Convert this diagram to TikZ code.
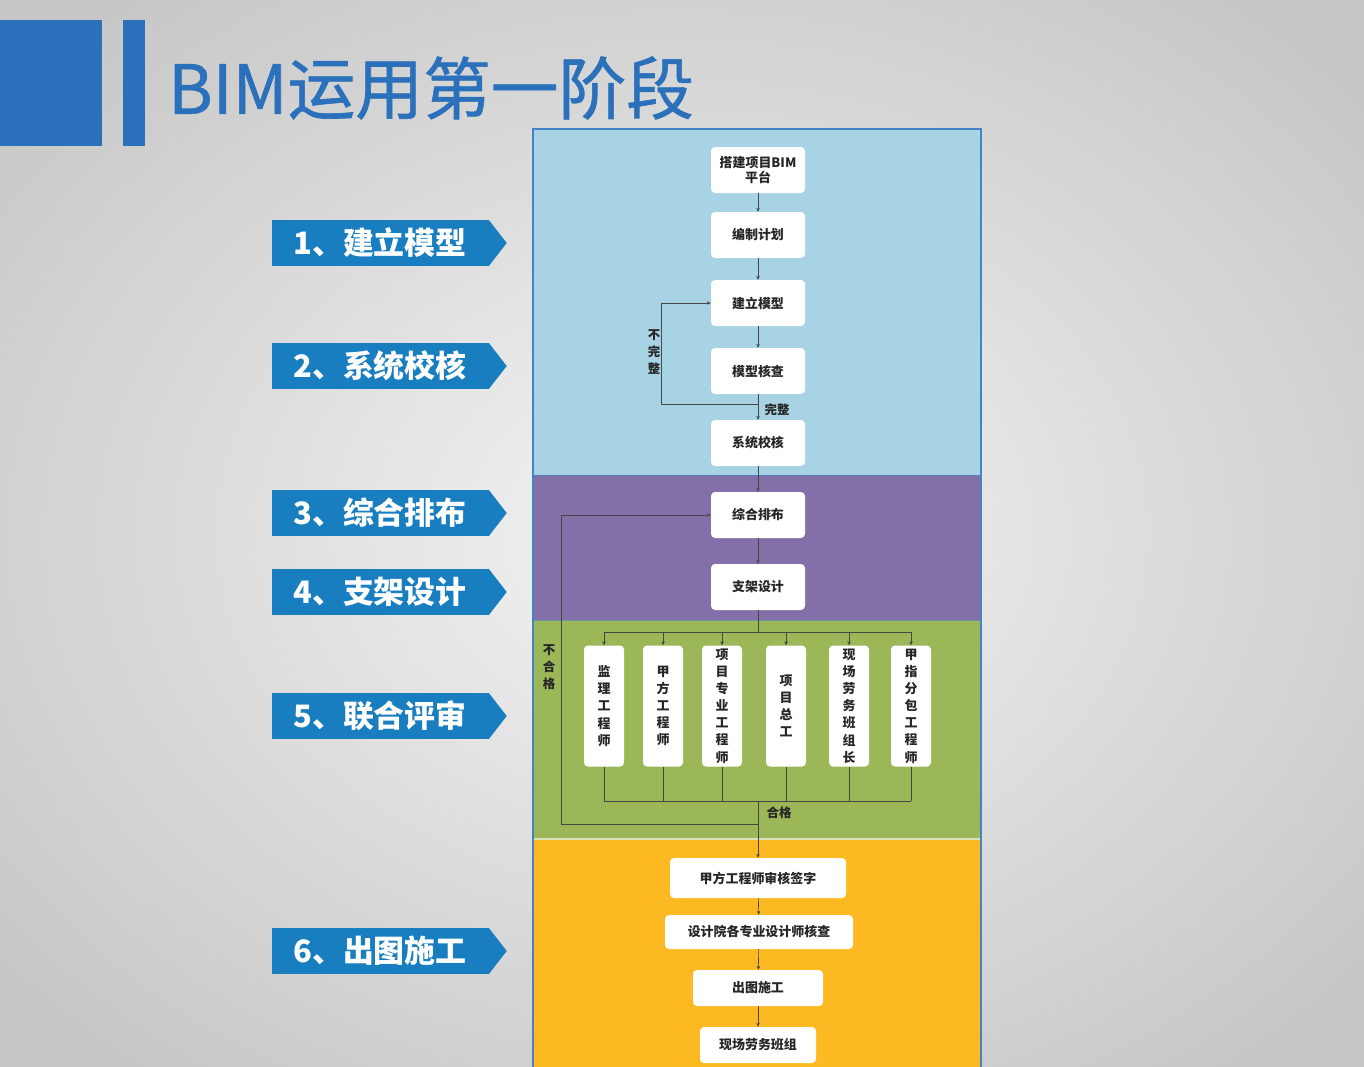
\documentclass[tikz,border=0pt]{standalone}
\usepackage{fontspec}
\newfontfamily\cjk{Noto Sans CJK SC}
\newfontfamily\cjktitle{Noto Sans CJK SC}[FakeBold=0.9]
\usetikzlibrary{arrows.meta,calc}
\definecolor{secblue}{RGB}{167,211,228}
\definecolor{secpurple}{RGB}{132,112,168}
\definecolor{secgreen}{RGB}{155,183,88}
\definecolor{secorange}{RGB}{253,185,34}
\definecolor{frameblue}{RGB}{70,130,200}
\definecolor{titleblue}{RGB}{42,112,186}
\definecolor{lblblue}{RGB}{24,126,192}
\definecolor{linegray}{RGB}{70,70,70}
\tikzset{
  fbox/.style={fill=white, rounded corners=4bp, minimum width=94bp, minimum height=46bp,
    inner sep=1bp, align=center, text=black!85,
    font=\cjk\bfseries\fontsize{13}{15}\selectfont},
  vbox/.style={fill=white, rounded corners=4bp, minimum width=40bp, minimum height=121bp,
    inner sep=1bp, align=center, text=black!85,
    font=\cjk\bfseries\fontsize{13}{17.2}\selectfont},
  conn/.style={draw=linegray, line width=0.6bp},
  arr/.style={conn, -{Stealth[length=4bp,width=3.5bp]}},
  lbl/.style={fill=lblblue, text=white, minimum width=217bp, minimum height=46bp,
    inner sep=0pt, font=\cjk\bfseries\fontsize{31}{31}\selectfont},
  note/.style={inner sep=0pt, text=black!85, align=center,
    font=\cjk\bfseries\fontsize{12.5}{17}\selectfont}
}
\begin{document}
\begin{tikzpicture}[x=1bp,y=-1bp]
\useasboundingbox (0,0) rectangle (1364,1066);
% background
\shade[inner color=white!96!black, outer color=black!22] (-200,-150) rectangle (1564,1216);
% header blocks
\fill[titleblue] (0,20) rectangle (102,146);
\fill[titleblue] (123,20) rectangle (145,146);
\node[anchor=west, inner sep=0pt, text=titleblue, font=\cjktitle\fontsize{68}{68}\selectfont] (title) at (168,88) {BIM运用第一阶段};
% left labels
\foreach \n/\yy/\t in {1/243/{1、建立模型},2/366/{2、系统校核},3/513/{3、综合排布},4/592/{4、支架设计},5/716/{5、联合评审},6/951/{6、出图施工}}{
  \node[lbl] (l\n) at (380,\yy) {\t};
  \fill[lblblue] (l\n.north east) -- ($(l\n.east)+(18,0)$) -- (l\n.south east) -- cycle;
}
% sections
\fill[secblue] (534,130) rectangle (980,475);
\fill[secpurple] (534,475) rectangle (980,620);
\fill[secgreen] (534,620) rectangle (980,838);
\fill[secorange] (534,840) rectangle (980,1070);
\draw[white!60!secgreen, line width=1.2bp] (534,839) -- (980,839);
\draw[frameblue!70!secpurple, line width=0.8bp] (534,475) -- (980,475);
\draw[frameblue!60!secgreen, line width=0.8bp] (534,620) -- (980,620);
\draw[frameblue, line width=2bp] (533,129) rectangle (981,1070);
% top flow
\node[fbox] (a1) at (758,170) {搭建项目BIM\\平台};
\node[fbox] (a2) at (758,235) {编制计划};
\node[fbox] (a3) at (758,303) {建立模型};
\node[fbox] (a4) at (758,371) {模型核查};
\node[fbox] (a5) at (758,443) {系统校核};
\node[fbox] (a6) at (758,515) {综合排布};
\node[fbox] (a7) at (758,587) {支架设计};
% review boxes
\node[vbox] (v1) at (604,706) {监\\理\\工\\程\\师};
\node[vbox] (v2) at (663,706) {甲\\方\\工\\程\\师};
\node[vbox] (v3) at (722,706) {项\\目\\专\\业\\工\\程\\师};
\node[vbox] (v4) at (786,706) {项\\目\\总\\工};
\node[vbox] (v5) at (849,706) {现\\场\\劳\\务\\班\\组\\长};
\node[vbox] (v6) at (911,706) {甲\\指\\分\\包\\工\\程\\师};
% bottom flow
\node[fbox, minimum width=176bp, minimum height=40bp] (b1) at (758,878) {甲方工程师审核签字};
\node[fbox, minimum width=188bp, minimum height=34bp] (b2) at (759,932) {设计院各专业设计师核查};
\node[fbox, minimum width=130bp, minimum height=36bp] (b3) at (758,988) {出图施工};
\node[fbox, minimum width=116bp, minimum height=36bp] (b4) at (758,1045) {现场劳务班组};
% connectors top
\draw[arr] (a1) -- (a2);
\draw[arr] (a2) -- (a3);
\draw[arr] (a3) -- (a4);
\draw[arr] (a4) -- (a5);
\draw[arr] (a5) -- (a6);
\draw[arr] (a6) -- (a7);
% incomplete loop
\coordinate (j1) at (758,404);
\coordinate (k1) at (661,404);
\draw[conn] (j1) -- (k1);
\draw[arr] (k1) |- (a3.west);
\node[note] (n1) at (654,352) {不\\完\\整};
\node[note] (n2) at (777,410) {完整};
% branch to reviewers
\coordinate (br) at (758,632);
\draw[conn] (a7.south) -- (br);
\draw[conn] (v1.north |- br) -- (v6.north |- br);
\foreach \i in {1,...,6}{ \draw[arr] (v\i.north |- br) -- (v\i.north); }
% collect
\coordinate (cl) at (758,801);
\foreach \i in {1,...,6}{ \draw[conn] (v\i.south) -- (v\i.south |- cl); }
\draw[conn] (v1.south |- cl) -- (v6.south |- cl);
\draw[arr] (cl) -- (b1.north);
\node[note] (n3) at (779,813) {合格};
% fail loop
\coordinate (j2) at (758,824);
\coordinate (k2) at (561,824);
\draw[conn] (j2) -- (k2);
\draw[arr] (k2) |- (a6.west);
\node[note] (n4) at (549,667) {不\\合\\格};
% bottom connectors
\draw[arr] (b1) -- (b2);
\draw[arr] (b2) -- (b3);
\draw[arr] (b3) -- (b4);
\end{tikzpicture}
\end{document}
